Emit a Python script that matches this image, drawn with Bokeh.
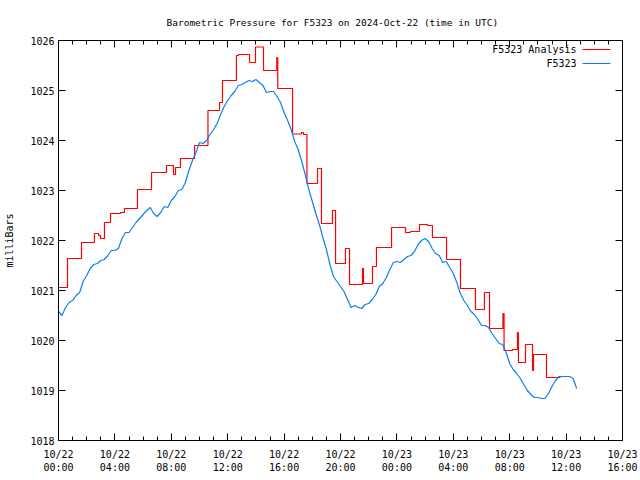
import pandas as pd
from bokeh.plotting import figure
from bokeh.models import (FixedTicker, DatetimeTickFormatter, DatetimeAxis, LinearAxis,
                          Range1d, Label, Arrow, CustomJSTickFormatter)
from bokeh.embed import file_html
from bokeh.resources import INLINE

# ---------------- data ----------------
title_text = "Barometric Pressure for F5323 on 2024-Oct-22 (time in UTC)"
start_time = "2024-10-22 00:00"
station_name = "F5323"
analysis_name = "F5323 Analysis"

# station observations, every 15 minutes from 2024-10-22 00:00 UTC (mbar)
station_vals = [
    1020.58, 1020.50, 1020.66, 1020.76, 1020.80, 1020.90, 1020.96, 1021.18, 1021.30, 1021.44,
    1021.52, 1021.54, 1021.60, 1021.62, 1021.70, 1021.80, 1021.80, 1021.84, 1022.04, 1022.16,
    1022.16, 1022.26, 1022.36, 1022.44, 1022.52, 1022.60, 1022.66, 1022.54, 1022.48, 1022.56,
    1022.68, 1022.66, 1022.80, 1022.88, 1023.00, 1023.02, 1023.16, 1023.40, 1023.60, 1023.76,
    1023.96, 1023.94, 1024.00, 1024.12, 1024.22, 1024.34, 1024.52, 1024.68, 1024.80, 1024.90,
    1024.98, 1025.10, 1025.12, 1025.16, 1025.20, 1025.18, 1025.22, 1025.16, 1025.10, 1024.96,
    1024.98, 1024.98, 1024.88, 1024.76, 1024.56, 1024.40, 1024.22, 1023.98, 1023.82, 1023.58,
    1023.32, 1023.02, 1022.78, 1022.54, 1022.32, 1022.06, 1021.82, 1021.52, 1021.28, 1021.18,
    1021.08, 1020.98, 1020.82, 1020.66, 1020.70, 1020.66, 1020.64, 1020.72, 1020.74, 1020.82,
    1020.92, 1021.08, 1021.14, 1021.26, 1021.42, 1021.56, 1021.58, 1021.56, 1021.62, 1021.68,
    1021.70, 1021.78, 1021.92, 1022.00, 1022.04, 1021.98, 1021.84, 1021.74, 1021.70, 1021.56,
    1021.58, 1021.46, 1021.34, 1021.16, 1020.94, 1020.80, 1020.70, 1020.58, 1020.52, 1020.42,
    1020.30, 1020.30, 1020.26, 1020.14, 1020.04, 1019.94, 1019.92, 1019.76, 1019.54, 1019.42,
    1019.34, 1019.24, 1019.12, 1019.00, 1018.92, 1018.86, 1018.86, 1018.84, 1018.84, 1018.94,
    1019.08, 1019.20, 1019.28, 1019.28, 1019.28, 1019.28, 1019.24, 1019.04,
]

# analysis (step function): hours after start, value in mbar
analysis_hours = [
    0.00, 0.64, 1.63, 2.55, 2.84, 2.98, 3.26, 3.69, 4.40, 4.68,
    5.60, 6.60, 7.66, 8.16, 8.30, 8.65, 9.65, 10.60, 11.42, 11.63,
    12.62, 12.77, 13.55, 13.97, 14.54, 15.48, 15.55, 16.60, 17.23, 17.38,
    17.62, 18.37, 18.65, 19.43, 19.65, 20.35, 20.64, 21.56, 21.63, 22.27,
    22.55, 23.62, 24.61, 24.96, 25.60, 26.17, 26.52, 27.52, 28.51, 29.57,
    30.21, 30.57, 31.52, 31.60, 32.20, 32.55, 32.62, 33.12, 33.62, 33.69,
    34.61, 35.60,
]
analysis_vals = [
    1021.06, 1021.64, 1021.96, 1022.14, 1022.10, 1022.04, 1022.36, 1022.54, 1022.56, 1022.64,
    1023.02, 1023.36, 1023.50, 1023.32, 1023.46, 1023.64, 1023.90, 1024.60, 1024.76, 1025.20,
    1025.70, 1025.72, 1025.56, 1025.87, 1025.40, 1025.66, 1025.04, 1024.13, 1024.16, 1024.12,
    1023.14, 1023.44, 1022.34, 1022.60, 1021.54, 1021.84, 1021.12, 1021.44, 1021.14, 1021.48,
    1021.86, 1022.26, 1022.16, 1022.18, 1022.32, 1022.30, 1022.06, 1021.62, 1021.04, 1020.62,
    1020.96, 1020.24, 1020.54, 1019.80, 1019.82, 1020.16, 1019.56, 1019.92, 1019.40, 1019.72,
    1019.26, 1019.26,
]

x_span_hours = 40          # axis from 10/22 00:00 to 10/23 16:00
major_step_hours = 4
y_min, y_max = 1018, 1026
y_ticks = list(range(1018, 1027))

# ---------------- build ----------------
FONT = "DejaVu Sans Mono"
FS = "10px"
RED = "#ff0000"
BLUE = "#0a7ff2"

t0 = pd.Timestamp(start_time)
station_times = pd.date_range(t0, periods=len(station_vals), freq="15min")
analysis_times = t0 + pd.to_timedelta(analysis_hours, unit="h")
t_end = t0 + pd.Timedelta(hours=x_span_hours)


def ms(ts):
    return ts.value / 1e6


major_ticks = [ms(t0 + pd.Timedelta(hours=h)) for h in range(0, x_span_hours + 1, major_step_hours)]
minor_ticks = [ms(t0 + pd.Timedelta(hours=h)) for h in range(0, x_span_hours + 1)]

p = figure(frame_width=564, frame_height=400, x_axis_type="datetime",
           x_range=Range1d(t0, t_end), y_range=Range1d(y_min, y_max),
           output_backend="svg", toolbar_location=None,
           min_border_left=58, min_border_right=18, min_border_top=40, min_border_bottom=40)

p.background_fill_color = "white"
p.border_fill_color = "white"
p.outline_line_color = "black"
p.outline_line_width = 1
p.grid.visible = False

p.title.text = title_text
p.title.align = "left"
p.title.offset = 108
p.title.text_font = FONT
p.title.text_font_size = "9.5px"
p.title.text_font_style = "normal"
p.title.text_color = "black"
p.title.standoff = 26

fmt = "%m/%d\n%H:%M"
xfmt = DatetimeTickFormatter(microseconds=fmt, milliseconds=fmt, seconds=fmt, minsec=fmt,
                             minutes=fmt, hourmin=fmt, hours=fmt, days=fmt, months=fmt, years=fmt)
blank = CustomJSTickFormatter(code="return ''")
xt = FixedTicker(ticks=major_ticks, minor_ticks=minor_ticks)
yt = FixedTicker(ticks=y_ticks, minor_ticks=[])


def style_axis(ax):
    ax.axis_line_color = "black"
    ax.major_tick_line_color = "black"
    ax.minor_tick_line_color = "black"
    ax.major_tick_in = 7
    ax.major_tick_out = 0
    ax.minor_tick_in = 4
    ax.minor_tick_out = 0
    ax.major_label_text_font = FONT
    ax.major_label_text_font_size = FS
    ax.major_label_text_color = "black"


xa = p.xaxis[0]
xa.ticker = xt
xa.formatter = xfmt
style_axis(xa)
xa.major_label_standoff = 8
xa.major_label_text_line_height = 1.2

ya = p.yaxis[0]
ya.ticker = yt
style_axis(ya)
ya.major_label_standoff = 4
ya.axis_label = "milliBars"
ya.axis_label_text_font = FONT
ya.axis_label_text_font_size = FS
ya.axis_label_text_font_style = "normal"
ya.axis_label_text_color = "black"
ya.axis_label_standoff = 12

top_ax = DatetimeAxis(ticker=xt, formatter=blank)
style_axis(top_ax)
top_ax.major_label_standoff = 0
p.add_layout(top_ax, "above")

right_ax = LinearAxis(ticker=yt, formatter=blank)
style_axis(right_ax)
right_ax.major_label_standoff = 0
p.add_layout(right_ax, "right")

p.step(analysis_times, analysis_vals, mode="after", line_color=RED, line_width=1.2)
p.line(station_times, station_vals, line_color=BLUE, line_width=1.2)

# legend, gnuplot style: text right-aligned, sample line to the right
leg_rows = [(analysis_name, RED, 391), (station_name, BLUE, 377)]
for name, col, yy in leg_rows:
    p.add_layout(Label(x=518, y=yy, x_units="screen", y_units="screen", text=name,
                       text_align="right", text_baseline="middle",
                       text_font=FONT, text_font_size=FS, text_color="black"))
    p.add_layout(Arrow(end=None, x_start=524, y_start=yy, x_end=552, y_end=yy,
                       start_units="screen", end_units="screen",
                       line_color=col, line_width=1.2))

open("out.html", "w").write(file_html(p, INLINE))
